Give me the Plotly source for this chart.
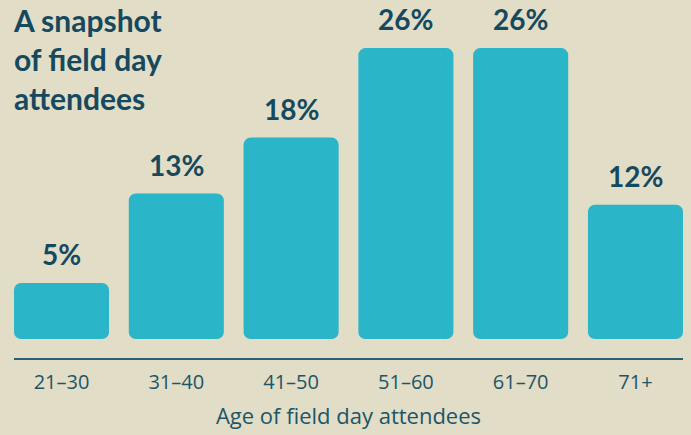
import plotly.graph_objects as go

# Data
age_groups = ['21–30', '31–40', '41–50', '51–60', '61–70', '71+']
share_pct = [5, 13, 18, 26, 26, 12]

BG = '#E1DDC7'
BAR = '#2BB5C8'
DARK = '#17495E'
TICK = '#1D5568'
TITLE_FONT = 'Lato, sans-serif'
LABEL_FONT = '"Open Sans", sans-serif'

fig = go.Figure()

# explicit base -> plotly rounds both ends of the bar
fig.add_trace(go.Bar(
    x=age_groups, y=share_pct, base=[0] * len(share_pct),
    marker=dict(color=BAR, line=dict(width=0), cornerradius=7),
    hovertemplate='%{x}: %{y}%<extra></extra>',
    showlegend=False
))

# Percent labels above bars
for cat, v in zip(age_groups, share_pct):
    fig.add_annotation(
        x=cat, y=v, text=f'{v}%',
        showarrow=False, yanchor='bottom', yshift=10,
        font=dict(family=TITLE_FONT, size=28, color=DARK, weight='bold')
    )

# Title in the top-left corner
fig.add_annotation(
    xref='paper', yref='paper', x=0, y=1.0,
    xanchor='left', yanchor='top', align='left',
    xshift=-3, yshift=0,
    text='A snapshot<br>of field day<br>attendees',
    showarrow=False,
    font=dict(family=TITLE_FONT, size=30, color=DARK, weight='bold')
)

fig.update_layout(
    width=691, height=435,
    margin=dict(l=14, r=8, t=0, b=77),
    paper_bgcolor=BG, plot_bgcolor=BG,
    bargap=0.172,
    font=dict(family=LABEL_FONT, color=TICK),
    xaxis=dict(
        range=[-0.414, 5.414],
        showline=True, linecolor='#2C5F70', linewidth=2,
        showgrid=False, zeroline=False,
        ticks='', tickfont=dict(size=20, color=TICK),
        ticklabelstandoff=5,
        title=dict(text='Age of field day attendees',
                   font=dict(size=22, color=TICK), standoff=15),
        fixedrange=True
    ),
    yaxis=dict(
        range=[-1.7, 30.3],
        visible=False, showgrid=False, zeroline=False,
        fixedrange=True
    ),
)

fig.write_html('out.html', config={'displayModeBar': False},
               post_script="document.body.style.margin='0';")
